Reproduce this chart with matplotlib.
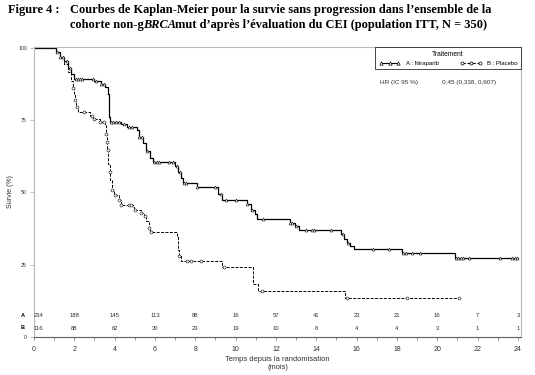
import numpy as np
import matplotlib
matplotlib.use('Agg')
import matplotlib.pyplot as plt
import matplotlib.lines as mlines

# Niraparib (A): step times (mois) and survival (%) after each step
timesA = [0, 1.1, 1.3, 1.5, 1.7, 1.85, 2.0, 3.0, 3.3, 3.5, 3.65, 3.7, 3.75, 4.3, 4.6, 5.1, 5.2, 5.4, 5.55, 5.75,
	5.9, 7.0, 7.15, 7.3, 7.4, 8.1, 9.1, 9.3, 10.55, 10.75, 10.95, 11.05, 12.7, 12.95, 13.15, 15.2, 15.35, 15.5,
	15.65, 15.85, 18.25, 20.9, 24.0]
survA = [100, 98.5, 97, 95.5, 93, 91, 89.3, 88.5, 87.5, 86.5, 84, 76, 74.5, 73.5, 72.5, 71.5, 69, 67, 64.5, 62,
	60.6, 59, 57, 55, 53.2, 51.8, 49.5, 47.3, 46, 44, 42.5, 40.8, 39.5, 38.3, 36.9, 35.5, 34, 32.5,
	31.5, 30.5, 29.1, 27.4, 27.4]
censorA = [1.12, 1.3, 1.45, 1.62, 1.78, 2.1, 2.2, 2.3, 2.4, 2.95, 3.05, 3.3, 3.45, 3.8, 3.9, 4.05, 4.2, 4.45,
	4.7, 4.85, 5.2, 5.35, 5.6, 5.95, 6.1, 6.2, 6.7, 6.9, 7.1, 7.25, 7.45, 7.55, 8.1, 9.0, 9.25, 9.5, 10.0,
	10.55, 10.8, 11.35, 12.7, 12.8, 13.0, 13.5, 13.8, 13.9, 14.75, 15.3, 15.55, 16.8, 17.6, 18.3, 18.45,
	18.75, 19.15, 20.95, 21.05, 21.15, 21.25, 21.55, 23.1, 23.7, 23.85, 23.95]

# Placebo (B)
timesB = [0, 1.1, 1.3, 1.5, 1.7, 1.85, 1.95, 2.0, 2.05, 2.1, 2.2, 2.8, 2.95, 3.25, 3.5, 3.55, 3.6, 3.62, 3.67,
	3.75, 3.77, 3.85, 3.95, 4.2, 4.3, 4.9, 4.95, 5.3, 5.45, 5.55, 5.7, 5.75, 7.1, 7.15, 7.2, 7.3, 9.3, 10.85,
	11.1, 15.4, 21.1]
survB = [100, 98.5, 96.5, 94.5, 91.5, 88.5, 86, 84, 81.8, 79.5, 77.8, 76.6, 75.5, 74.3, 73.8, 70.3, 67.5, 64.6, 60,
	57.1, 54.3, 50.9, 49.1, 47.4, 45.7, 45.1, 44, 42.8, 41.7, 40, 37.7, 36.2, 34.8, 30.2, 27.9, 26.3, 24.2, 18.2,
	15.8, 13.6, 13.6]
censorB = [1.95, 2.05, 2.15, 2.5, 2.9, 3.0, 3.25, 3.45, 3.55, 3.6, 3.65, 3.75, 3.85, 4.0, 4.2, 4.3, 4.7, 4.8,
	5.0, 5.3, 5.5, 5.7, 5.8, 7.2, 7.6, 7.8, 8.3, 9.4, 11.3, 15.5, 18.5, 21.1]

riskMonths = list(range(0, 25, 2))
riskA = [234, 188, 145, 113, 88, 16, 57, 41, 23, 21, 16, 7, 3]
riskB = [116, 88, 62, 30, 23, 19, 10, 8, 4, 4, 3, 1, 1]

yTicks = [0, 25, 50, 75, 100]
xTicks = list(range(0, 25, 2))

spineGrey = '#b8b8b8'
textGrey = '#303030'

def stepValue(times, surv, t):
	return surv[np.searchsorted(times, t, side = 'right') - 1]

def plotArm(ax, times, surv, censor, lineStyle, marker, lw):
	ax.step(times, surv, where = 'post', color = 'black', linestyle = lineStyle, linewidth = lw, zorder = 2)
	ax.plot(censor, [stepValue(times, surv, t) for t in censor], linestyle = 'None', marker = marker,
		markersize = 2.1, markerfacecolor = 'white', markeredgecolor = '#202020', markeredgewidth = 0.45, zorder = 3)

def drawTitle(fig):
	renderer = fig.canvas.get_renderer()
	serif = 'Liberation Serif'
	size = 8.9
	fig.text(0.015, 0.972, 'Figure 4 :', family = serif, weight = 'bold', fontsize = size, va = 'center')
	x0 = 70 / 535
	fig.text(x0, 0.972, 'Courbes de Kaplan-Meier pour la survie sans progression dans l\u2019ensemble de la',
		family = serif, weight = 'bold', fontsize = size, va = 'center')
	x = x0
	for piece, style in [('cohorte non-g', 'normal'), ('BRCA', 'italic'),
			('mut d\u2019apr\u00e8s l\u2019\u00e9valuation du CEI (population ITT, N = 350)', 'normal')]:
		t = fig.text(x, 0.934, piece, family = serif, weight = 'bold', style = style, fontsize = size, va = 'center')
		x += (t.get_window_extent(renderer).width - 1) / fig.bbox.width

def setAxes(ax):
	ax.set_xlim(0, 24.15)
	ax.set_ylim(0, 100.3)
	for side in ['left', 'top', 'right']:
		ax.spines[side].set_color(spineGrey)
		ax.spines[side].set_linewidth(0.8)
	ax.spines['bottom'].set_color('#606060')
	ax.spines['bottom'].set_linewidth(0.8)

	ax.set_xticks(xTicks)
	ax.set_xticks(range(0, 25), minor = True)
	ax.set_yticks(yTicks)
	ax.tick_params(axis = 'x', which = 'both', length = 2.5, width = 0.5, color = '#606060', labelsize = 5,
		labelcolor = textGrey, pad = 4)
	ax.tick_params(axis = 'y', length = 3, width = 0.6, color = spineGrey, labelsize = 3.8,
		labelcolor = textGrey, pad = 2)

	ax.set_xlabel('Temps depuis la randomisation\n(mois)', fontsize = 5.4, color = textGrey, labelpad = 2,
		linespacing = 1.3)
	ax.set_ylabel('Survie (%)', fontsize = 5, color = textGrey, labelpad = 3)

def setRiskTable(ax):
	for i, month in enumerate(riskMonths):
		ha = 'left' if month == 0 else 'center'
		ax.text(month, 7.5, str(riskA[i]), fontsize = 4.2, color = textGrey, ha = ha, va = 'center')
		ax.text(month, 3.0, str(riskB[i]), fontsize = 4.2, color = textGrey, ha = ha, va = 'center')
	ax.text(-0.45, 7.5, 'A', fontsize = 4, weight = 'bold', ha = 'right', va = 'center', clip_on = False)
	ax.text(-0.45, 3.4, 'B', fontsize = 4, weight = 'bold', ha = 'right', va = 'center', clip_on = False)

def setLegend(ax):
	handleA = mlines.Line2D([], [], color = 'black', linewidth = 0.8, marker = '^', markersize = 2.4,
		markerfacecolor = 'white', markeredgewidth = 0.5)
	handleB = mlines.Line2D([], [], color = 'black', linewidth = 0.8, linestyle = (0, (3, 1.5)), marker = 'o',
		markersize = 2.2, markerfacecolor = 'white', markeredgewidth = 0.5)
	legend = ax.legend([handleA, handleB], ['A : Niraparib', 'B : Placebo'], title = 'Traitement', ncol = 2,
		loc = 'upper right', borderaxespad = 0, numpoints = 3, handlelength = 3.6, handletextpad = 0.9,
		columnspacing = 3.6, fontsize = 4.3, title_fontsize = 4.8, fancybox = False, framealpha = 1,
		edgecolor = 'black', borderpad = 0.6)
	legend.get_frame().set_linewidth(0.5)
	ax.text(0.71, 0.876, 'HR (IC 95 %)', transform = ax.transAxes, fontsize = 4.6, color = textGrey, va = 'center')
	ax.text(0.838, 0.876, '0,45 (0,338, 0,607)', transform = ax.transAxes, fontsize = 4.6, color = textGrey,
		va = 'center')

def main():
	plt.rcParams['font.family'] = ['Liberation Sans', 'DejaVu Sans']
	fig = plt.figure(figsize = (5.35, 3.75), dpi = 100)
	ax = fig.add_axes([34 / 535, 1 - 337 / 375, 487 / 535, 290 / 375])

	plotArm(ax, timesA, survA, censorA, '-', '^', 0.9)
	plotArm(ax, timesB, survB, censorB, (0, (3, 1.5)), 'o', 0.7)
	setAxes(ax)
	setRiskTable(ax)
	setLegend(ax)
	drawTitle(fig)

	fig.savefig('out.png', dpi = 100)
	return 0

if __name__ == '__main__':
	main()
